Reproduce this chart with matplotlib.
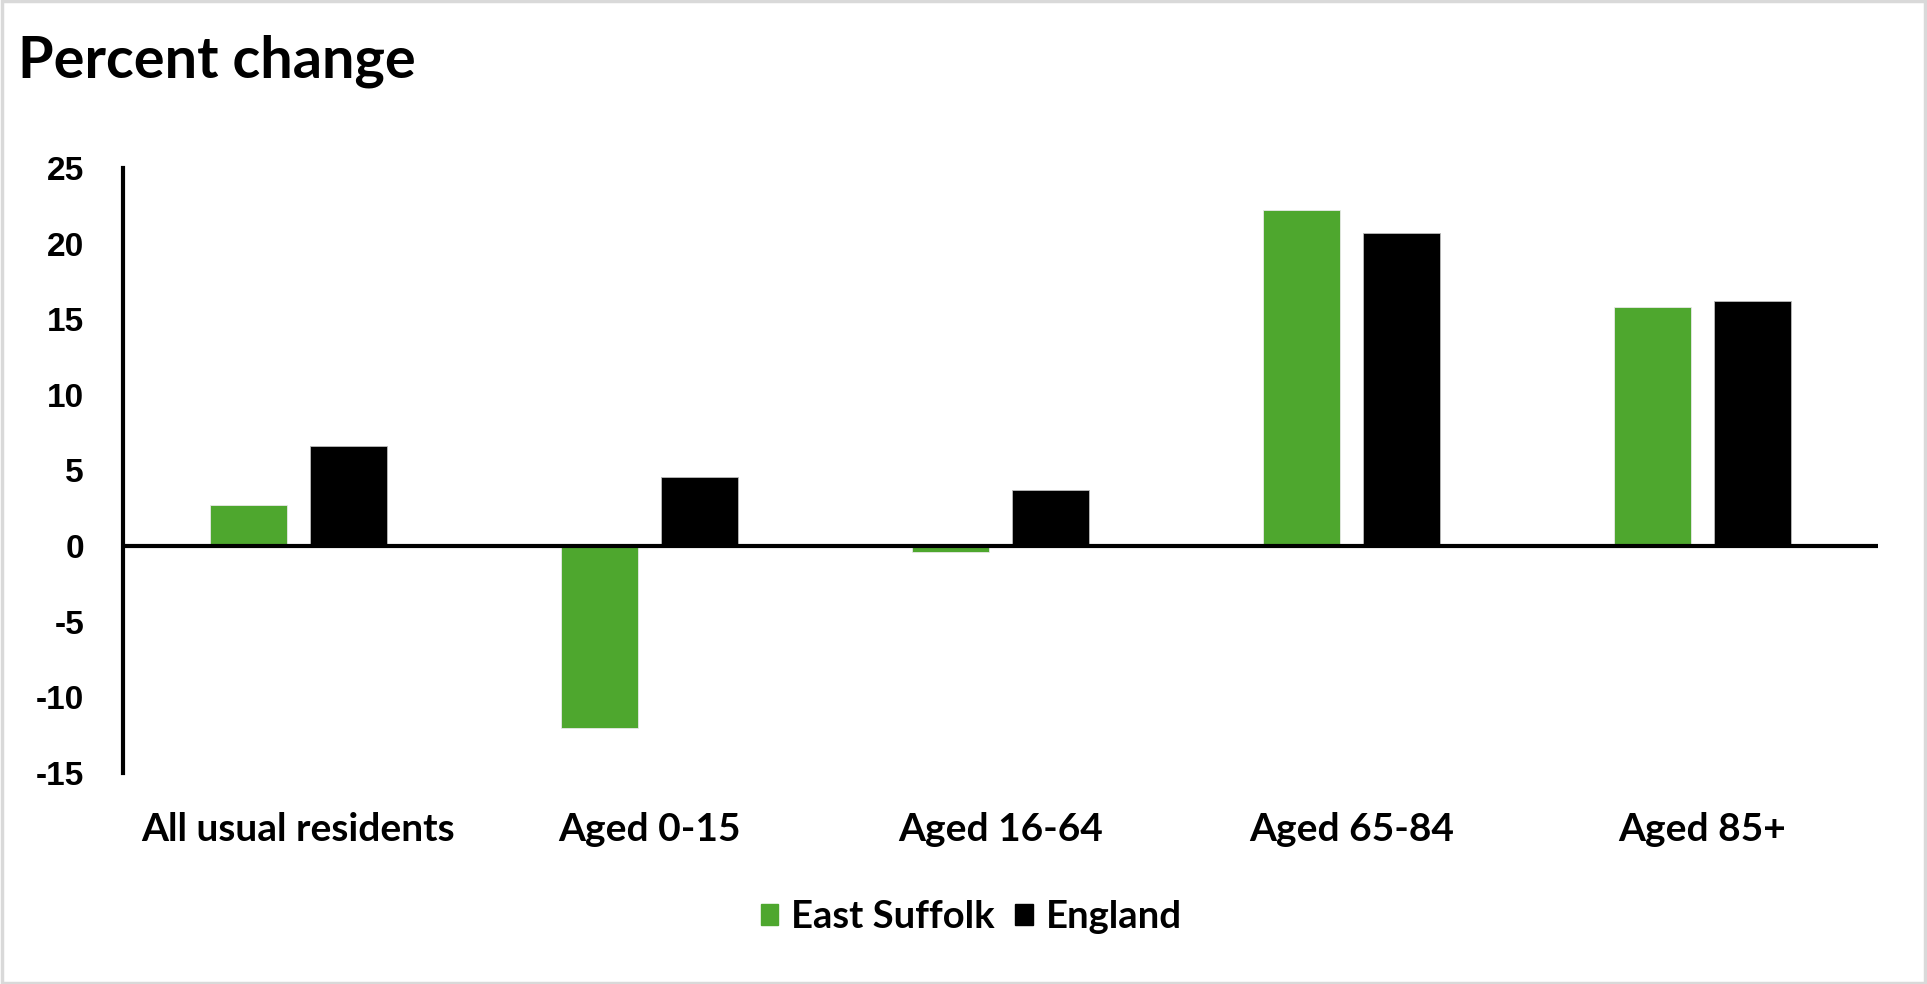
import matplotlib
matplotlib.use("Agg")
import matplotlib.pyplot as plt
from matplotlib.patches import Rectangle, Patch
import numpy as np

categories = ["All usual residents", "Aged 0-15", "Aged 16-64", "Aged 65-84", "Aged 85+"]
east_suffolk = [2.7, -12.0, -0.4, 22.2, 15.8]
england = [6.6, 4.6, 3.7, 20.7, 16.2]
series_names = ["East Suffolk", "England"]
yticks = [-15, -10, -5, 0, 5, 10, 15, 20, 25]

GREEN = "#4EA72E"
BLACK = "#000000"
TEXT_FONT = ["Lato", "DejaVu Sans"]
NUM_FONT = ["Liberation Sans", "DejaVu Sans"]

fig = plt.figure(figsize=(19.27, 9.84), dpi=100)
fig.patch.set_facecolor("white")
fig.add_artist(Rectangle((0.001, 0.001), 0.998, 0.998, transform=fig.transFigure,
                         fill=False, edgecolor="#d9d9d9", linewidth=2.5))

ax = fig.add_axes([0.0638, 0.2144, 0.9746 - 0.0638, 0.8293 - 0.2144])
x = np.arange(len(categories))
w = 0.22
off = 0.142
ax.bar(x - off, east_suffolk, width=w, color=GREEN, edgecolor="#e8e8e8", linewidth=0.6, zorder=2)
ax.bar(x + off, england, width=w, color=BLACK, edgecolor="#bbbbbb", linewidth=0.6, zorder=2)
ax.axhline(0, color="black", linewidth=3, zorder=3)

ax.set_xlim(-0.5, len(categories) - 0.5)
ax.set_ylim(-15, 25)
ax.set_yticks(yticks)
ax.set_yticklabels([str(t) for t in yticks], fontfamily=NUM_FONT, fontweight="bold", fontsize=24)
ax.set_xticks(x)
ax.set_xticklabels(categories, fontfamily=TEXT_FONT, fontweight="bold", fontsize=28)
ax.tick_params(axis="y", length=0, pad=28)
ax.tick_params(axis="x", length=0, pad=28)
for s in ["top", "right", "bottom"]:
    ax.spines[s].set_visible(False)
ax.spines["left"].set_linewidth(3)
ax.spines["left"].set_color("black")

fig.text(0.0093, 1 - 78 / 984, "Percent change", fontfamily=TEXT_FONT, fontweight="bold",
         fontsize=41.5, va="baseline", ha="left")

handles = [Patch(facecolor=GREEN, edgecolor=GREEN), Patch(facecolor=BLACK, edgecolor=BLACK)]
fig.legend(handles, series_names, loc="center", bbox_to_anchor=(0.504, 0.068), ncol=2,
           frameon=False, prop={"family": TEXT_FONT, "weight": "bold", "size": 27.5},
           handlelength=0.46, handleheight=0.46, handletextpad=0.33, columnspacing=0.55)

fig.savefig("out.png", dpi=100, facecolor="white")
